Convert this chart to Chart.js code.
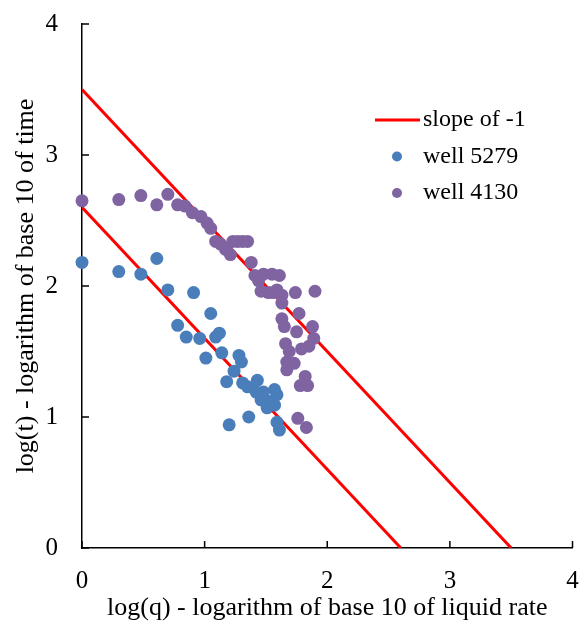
<!DOCTYPE html>
<html>
<head>
<meta charset="utf-8">
<script src="https://cdn.jsdelivr.net/npm/chart.js@4.4.0/dist/chart.umd.min.js"></script>
<style>
  html, body { margin: 0; padding: 0; background: #fff; }
  #wrap { width: 579px; height: 622px; }
</style>
</head>
<body>
<div id="wrap"><canvas id="decline"></canvas></div>
<script>
// log(q) / log(t) values
const well5279X = [0, 0.30, 0.48, 0.61, 0.70, 0.91, 1.05, 0.78, 0.85, 0.96, 1.09, 1.12, 1.01, 1.14, 1.28, 1.30, 1.24, 1.18, 1.31, 1.35, 1.43, 1.42, 1.48, 1.57, 1.59, 1.46, 1.52, 1.57, 1.51, 1.36, 1.20, 1.59, 1.61];
const well5279Y = [2.18, 2.11, 2.09, 2.21, 1.97, 1.95, 1.79, 1.70, 1.61, 1.60, 1.61, 1.64, 1.45, 1.49, 1.47, 1.42, 1.35, 1.27, 1.26, 1.23, 1.28, 1.19, 1.19, 1.21, 1.17, 1.13, 1.12, 1.09, 1.07, 1.00, 0.94, 0.96, 0.90];

const well4130X = [0, 0.30, 0.48, 0.61, 0.70, 0.78, 0.84, 0.90, 0.97, 1.02, 1.05, 1.09, 1.13, 1.17, 1.21, 1.23, 1.27, 1.31, 1.35, 1.38, 1.41, 1.44, 1.48, 1.55, 1.61, 1.46, 1.52, 1.56, 1.59, 1.63, 1.74, 1.90, 1.63, 1.63, 1.65, 1.77, 1.75, 1.88, 1.89, 1.66, 1.69, 1.79, 1.85, 1.67, 1.67, 1.73, 1.82, 1.78, 1.84, 1.76, 1.83];
const well4130Y = [2.65, 2.66, 2.69, 2.62, 2.70, 2.62, 2.61, 2.56, 2.53, 2.48, 2.44, 2.34, 2.32, 2.28, 2.24, 2.34, 2.34, 2.34, 2.34, 2.18, 2.08, 2.04, 2.09, 2.09, 2.08, 1.96, 1.95, 1.95, 1.97, 1.93, 1.95, 1.96, 1.87, 1.75, 1.69, 1.79, 1.65, 1.69, 1.60, 1.56, 1.50, 1.52, 1.54, 1.42, 1.36, 1.41, 1.31, 1.24, 1.24, 0.99, 0.92];

// the two slope -1 reference lines (end points on the axes)
const upperLineX = [0, 3.5];
const upperLineY = [3.5, 0];
const lowerLineX = [0, 2.6];
const lowerLineY = [2.6, 0];

const axisTicks = [0, 1, 2, 3, 4];

const RED = '#ff0000';
const BLUE = '#4a7ebb';
const PURPLE = '#8064a2';
const SERIF = "'Liberation Serif', 'Times New Roman', serif";

let pairs = (xs, ys) => xs.map((x, i) => ({ x: x, y: ys[i] }));

// tick marks that point into the plot, like the original
const innerTicks = {
    id: 'innerTicks',
    afterDatasetsDraw(chart) {
        const ctx = chart.ctx;
        const xs = chart.scales.x;
        const ys = chart.scales.y;
        ctx.save();
        ctx.strokeStyle = '#000';
        ctx.lineWidth = 1.5;
        axisTicks.forEach(v => {
            let px = xs.getPixelForValue(v);
            ctx.beginPath();
            ctx.moveTo(px, xs.top);
            ctx.lineTo(px, xs.top - 7);
            ctx.stroke();
            let py = ys.getPixelForValue(v);
            ctx.beginPath();
            ctx.moveTo(ys.right, py);
            ctx.lineTo(ys.right + 7, py);
            ctx.stroke();
        });
        ctx.restore();
    }
};

// legend box in the upper right of the plot
const sideLegend = {
    id: 'sideLegend',
    afterDraw(chart) {
        const ctx = chart.ctx;
        const ds = chart.data.datasets;
        const rows = [ds[0], ds[2], ds[3]];
        ctx.save();
        ctx.font = '24px ' + SERIF;
        ctx.textBaseline = 'middle';
        ctx.textAlign = 'left';
        rows.forEach((d, i) => {
            let y = 120 + i * 36.5;
            if (d.showLine) {
                ctx.strokeStyle = d.borderColor;
                ctx.lineWidth = 3;
                ctx.beginPath();
                ctx.moveTo(375, y);
                ctx.lineTo(420, y);
                ctx.stroke();
            } else {
                ctx.fillStyle = d.backgroundColor;
                ctx.beginPath();
                ctx.arc(397, y, 5, 0, Math.PI * 2);
                ctx.fill();
            }
            ctx.fillStyle = '#000';
            ctx.fillText(d.label, 423, y);
        });
        ctx.restore();
    }
};

const ctx = document.getElementById('decline').getContext('2d');
const declineChart = new Chart(ctx, {
    type: 'scatter',
    data: {
        datasets: [{
            label: 'slope of -1',
            data: pairs(upperLineX, upperLineY),
            showLine: true,
            borderColor: RED,
            borderWidth: 3,
            pointRadius: 0,
            order: 3
        }, {
            label: 'slope of -1',
            data: pairs(lowerLineX, lowerLineY),
            showLine: true,
            borderColor: RED,
            borderWidth: 3,
            pointRadius: 0,
            order: 3
        }, {
            label: 'well 5279',
            data: pairs(well5279X, well5279Y),
            backgroundColor: BLUE,
            borderWidth: 0,
            pointRadius: 6.5,
            clip: false,
            order: 2
        }, {
            label: 'well 4130',
            data: pairs(well4130X, well4130Y),
            backgroundColor: PURPLE,
            borderWidth: 0,
            pointRadius: 6.5,
            clip: false,
            order: 1
        }]
    },
    options: {
        responsive: true,
        maintainAspectRatio: false,
        animation: false,
        layout: { padding: { top: 24, right: 4, left: 0, bottom: 0 } },
        plugins: {
            legend: { display: false },
            tooltip: { enabled: false }
        },
        scales: {
            x: {
                type: 'linear',
                min: 0,
                max: 4,
                afterFit: s => {
                    s.height = 74;
                    s.paddingLeft = 0;
                    s.paddingRight = 0;
                },
                grid: { display: false },
                border: { display: true, color: '#000', width: 1.5 },
                ticks: {
                    stepSize: 1,
                    color: '#000',
                    padding: 10,
                    font: { family: SERIF, size: 25 }
                },
                title: {
                    display: true,
                    text: 'log(q) - logarithm of base 10 of liquid rate',
                    color: '#000',
                    font: { family: SERIF, size: 26, lineHeight: 1 },
                    padding: { top: 0, bottom: 1 }
                }
            },
            y: {
                type: 'linear',
                min: 0,
                max: 4,
                afterFit: s => {
                    s.width = 82;
                    s.paddingTop = 0;
                    s.paddingBottom = 0;
                },
                grid: { display: false },
                border: { display: true, color: '#000', width: 1.5 },
                ticks: {
                    stepSize: 1,
                    color: '#000',
                    padding: 16,
                    font: { family: SERIF, size: 25 }
                },
                title: {
                    display: true,
                    text: 'log(t) - logarithm of base 10 of time',
                    color: '#000',
                    font: { family: SERIF, size: 26, lineHeight: 1 },
                    padding: { top: 13, bottom: 0 }
                }
            }
        }
    },
    plugins: [innerTicks, sideLegend]
});
</script>
</body>
</html>
